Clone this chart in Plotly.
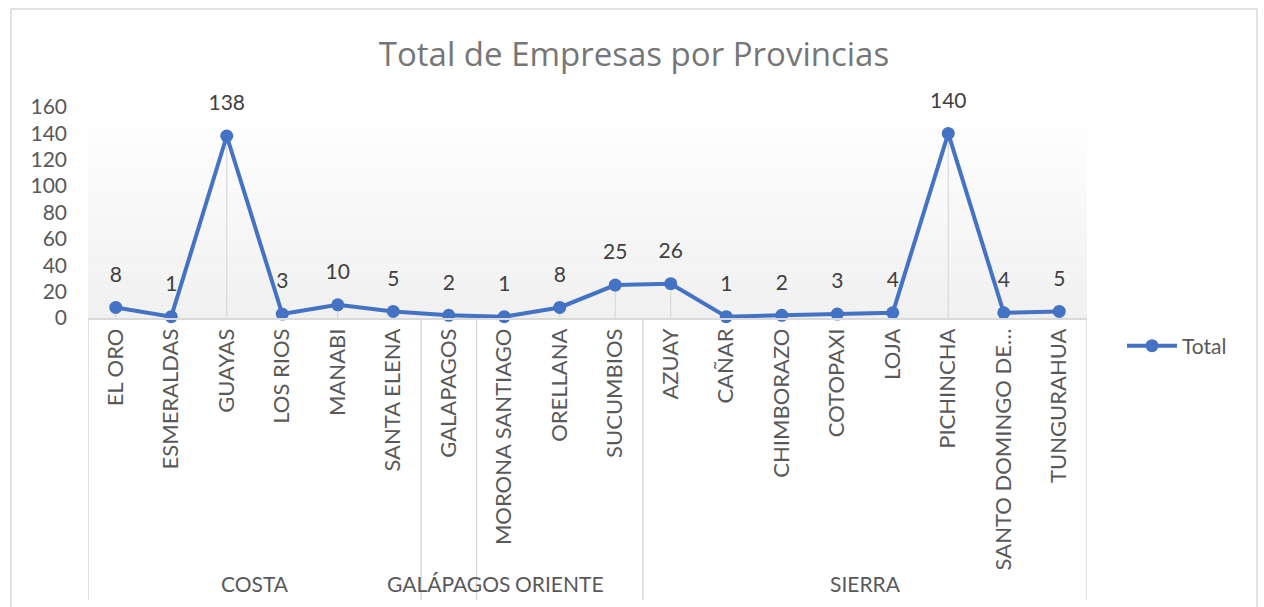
import plotly.graph_objects as go

groups = ["COSTA"] * 6 + ["GALÁPAGOS"] + ["ORIENTE"] * 3 + ["SIERRA"] * 8
provinces = ["EL ORO", "ESMERALDAS", "GUAYAS", "LOS RIOS", "MANABI", "SANTA ELENA",
             "GALAPAGOS", "MORONA SANTIAGO", "ORELLANA", "SUCUMBIOS",
             "AZUAY", "CAÑAR", "CHIMBORAZO", "COTOPAXI", "LOJA", "PICHINCHA",
             "SANTO DOMINGO DE…", "TUNGURAHUA"]
totals = [8, 1, 138, 3, 10, 5, 2, 1, 8, 25, 26, 1, 2, 3, 4, 140, 4, 5]
y_ticks = [0, 20, 40, 60, 80, 100, 120, 140, 160]

FONT = "Lato"
TXT = "#595959"
BLUE = "#4472C4"
GRID = "#d9d9d9"

W, H = 1264, 607
ML, MR, MT, MB = 88, 177, 107, 289
PW, PH = W - ML - MR, H - MT - MB


def px_y(py):
    return (H - MB - py) / PH


def px_x(px):
    return (px - ML) / PW


fig = go.Figure()

# drop lines
fig.add_trace(go.Scatter(
    x=provinces, y=totals, mode="markers",
    marker=dict(size=1, opacity=0),
    error_y=dict(type="data", symmetric=False, array=[0] * len(totals),
                 arrayminus=totals, color=GRID, thickness=1.2, width=0),
    showlegend=False, hoverinfo="skip", cliponaxis=False,
))

fig.add_trace(go.Scatter(
    x=provinces, y=totals, mode="lines+markers",
    name="Total",
    line=dict(color=BLUE, width=4),
    marker=dict(color=BLUE, size=13),
    cliponaxis=False,
))

# data labels (invisible larger marker pushes the text up like Excel)
fig.add_trace(go.Scatter(
    x=provinces, y=totals, mode="markers+text",
    marker=dict(size=31, opacity=0),
    text=[str(v) for v in totals], textposition="top center",
    textfont=dict(family=FONT, size=21, color="#404040"),
    showlegend=False, hoverinfo="skip", cliponaxis=False,
))

shapes = []
# gradient background of plot area
n = 40
for i in range(n):
    t = (i + 0.5) / n
    c = round(255 - 15 * t)
    shapes.append(dict(type="rect", xref="x domain", yref="y domain",
                       x0=0, x1=1, y0=1 - (i + 1) / n, y1=1 - i / n,
                       fillcolor=f"rgb({c},{c},{c})", line=dict(width=0),
                       layer="below"))
# outer chart border
shapes.append(dict(type="rect", xref="paper", yref="paper",
                   x0=px_x(11), x1=px_x(1257), y0=px_y(640), y1=px_y(9),
                   line=dict(color=GRID, width=1.5), fillcolor="rgba(0,0,0,0)",
                   layer="below"))

# group dividers and labels
annotations = []
order = []
for g in groups:
    if g not in order:
        order.append(g)
start = 0
bounds = [-0.5]
for g in order:
    cnt = groups.count(g)
    center = start + (cnt - 1) / 2
    annotations.append(dict(x=center, xref="x", y=px_y(583), yref="paper",
                            text=g, showarrow=False, xanchor="center",
                            yanchor="middle",
                            font=dict(family=FONT, size=21, color=TXT)))
    start += cnt
    bounds.append(start - 0.5)
for b in bounds:
    shapes.append(dict(type="line", xref="x", yref="paper", x0=b, x1=b,
                       y0=0, y1=px_y(600), line=dict(color=GRID, width=1.5)))

fig.update_layout(
    width=W, height=H,
    margin=dict(l=ML, r=MR, t=MT, b=MB, autoexpand=False),
    paper_bgcolor="white", plot_bgcolor="rgba(0,0,0,0)",
    title=dict(text="Total de Empresas por Provincias", x=634 / W, xref="container",
               xanchor="center", y=1 - 54 / H, yanchor="middle",
               font=dict(family="Open Sans", size=33, color="#767676")),
    font=dict(family=FONT, color=TXT),
    shapes=shapes, annotations=annotations,
    showlegend=True,
    legend=dict(x=px_x(1122), y=px_y(346), xanchor="left", yanchor="middle",
                bgcolor="rgba(0,0,0,0)", itemwidth=50,
                font=dict(family=FONT, size=21, color=TXT)),
)

fig.update_xaxes(
    type="category", range=[-0.5, len(provinces) - 0.5],
    showgrid=False, showline=True, linecolor=GRID,
    linewidth=1.5, ticks="", tickangle=-90,
    tickfont=dict(family=FONT, size=22, color=TXT),
    automargin=False,
)
fig.update_yaxes(
    range=[0, 160], tickvals=y_ticks, showgrid=False, zeroline=False,
    showline=False, ticks="", ticklabelstandoff=20,
    tickfont=dict(family=FONT, size=21, color=TXT), automargin=False,
)

fig.write_html("out.html", config={"displayModeBar": False},
               post_script="document.body.style.margin='0px';")
